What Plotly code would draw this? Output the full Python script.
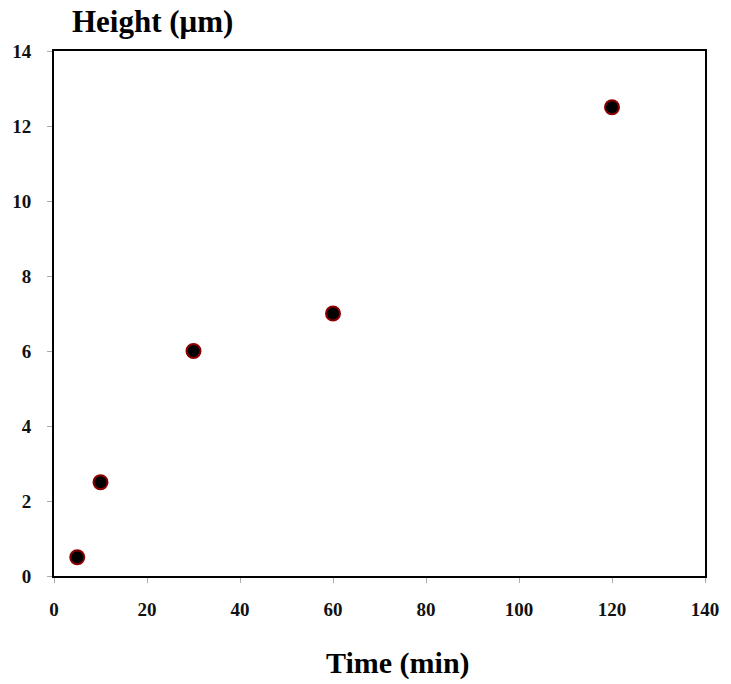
import plotly.graph_objects as go

time_min = [5, 10, 30, 60, 120]
height_um = [0.5, 2.5, 6, 7, 12.5]
x_ticks = [0, 20, 40, 60, 80, 100, 120, 140]
y_ticks = [0, 2, 4, 6, 8, 10, 12, 14]

W, H = 731, 684
l, r, t, b = 53, 20, 51, 108
pw, ph = W - l - r, H - t - b

fig = go.Figure()
fig.add_trace(go.Scatter(
    x=time_min, y=height_um, mode="markers",
    marker=dict(size=14, color="black", line=dict(color="#8b0000", width=2)),
    showlegend=False,
))

font_serif = "Liberation Serif, Times New Roman, serif"
axis_common = dict(
    showgrid=False, zeroline=False,
    showline=True, linecolor="black", linewidth=2, mirror=True,
    ticks="outside", ticklen=5, tickcolor="#aaaaaa", tickwidth=1,
    tickfont=dict(family=font_serif, size=19, color="#111111", weight="bold"),
)
fig.update_layout(
    width=W, height=H,
    margin=dict(l=l, r=r, t=t, b=b),
    paper_bgcolor="white", plot_bgcolor="white",
    xaxis=dict(range=[0, 140], tickvals=x_ticks, ticklabelstandoff=10, **axis_common),
    yaxis=dict(range=[0, 14], tickvals=y_ticks, ticklabelstandoff=12, **axis_common),
)

def px_to_paper(px, py):
    return (px - l) / pw, (H - b - py) / ph

ax1, ay1 = px_to_paper(69, 22)
ax2, ay2 = px_to_paper(401, 663)
fig.add_annotation(text="<b>Height (μm)</b>", x=ax1, y=ay1, xref="paper", yref="paper",
                   showarrow=False, xanchor="left", yanchor="middle",
                   font=dict(family=font_serif, size=31, color="black"))
fig.add_annotation(text="<b>Time (min)</b>", x=ax2, y=ay2, xref="paper", yref="paper",
                   showarrow=False, xanchor="center", yanchor="middle",
                   font=dict(family=font_serif, size=30, color="black"))

fig.write_html("out.html", config={"displayModeBar": False},
               post_script="document.body.style.margin='0';")
